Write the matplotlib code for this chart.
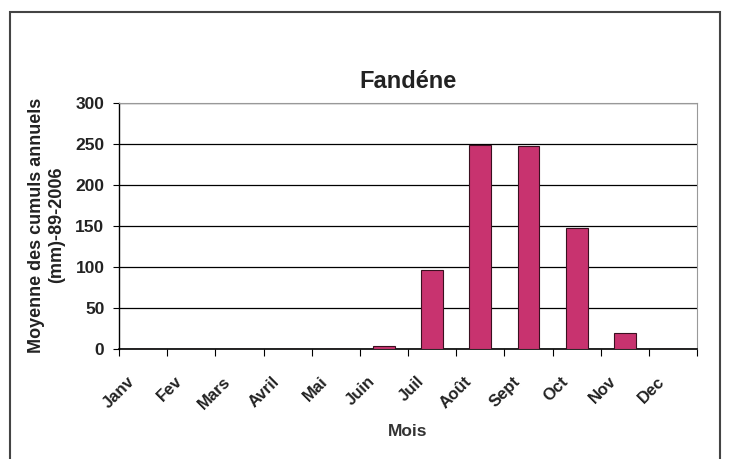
import matplotlib.pyplot as plt
from matplotlib.patches import Rectangle
from matplotlib.transforms import ScaledTranslation, blended_transform_factory
import numpy as np

plt.rcParams['font.family'] = ['Liberation Sans', 'DejaVu Sans']

# moyenne des cumuls mensuels (mm), 1989-2006
mois = ['Janv', 'Fev', 'Mars', 'Avril', 'Mai', 'Juin', 'Juil', 'Août', 'Sept', 'Oct', 'Nov', 'Dec']
pluie = [0, 0, 0, 0, 0, 4, 96, 249, 247, 148, 19, 0]

fig = plt.figure(figsize=(7.3, 4.59), dpi=100)
ax = fig.add_axes([0.163, 0.2397, 0.792, 0.536])

x = np.arange(len(mois))
ax.bar(x, pluie, width=0.45, color='#c8336f', edgecolor='#3a1020', linewidth=0.8, zorder=3)

ax.set_xlim(-0.5, len(mois) - 0.5)
ax.set_ylim(0, 300)
ax.set_yticks(range(0, 301, 50))
ax.yaxis.grid(True, color='black', linewidth=0.9, zorder=0)

# graduations entre les mois
ax.set_xticks(np.arange(-0.5, len(mois)))
ax.set_xticklabels([])
ax.tick_params(axis='x', length=5, direction='out', color='black')
ax.tick_params(axis='y', length=4, direction='out', pad=6.5, labelsize=12.5, labelcolor='#222222')
for lab in ax.get_yticklabels():
    lab.set_fontweight('bold')

# noms des mois en diagonale, sous chaque barre
trans = blended_transform_factory(ax.transData, ax.transAxes)
off = ScaledTranslation(-11 / 100, -30 / 100, fig.dpi_scale_trans)
for xi, m in zip(x, mois):
    ax.text(xi, 0, m, transform=trans + off, rotation=45, ha='right', va='center',
            rotation_mode='anchor', fontsize=12, fontweight='bold', color='#222222')

ax.spines['top'].set_color('#999999')
ax.spines['right'].set_color('#999999')
ax.spines['left'].set_linewidth(1.0)
ax.spines['bottom'].set_linewidth(1.2)

ax.set_title('Fandéne', fontsize=17, fontweight='bold', color='#222222', pad=11)
fig.text(408 / 730, 1 - 432 / 459, 'Mois', ha='center', va='center',
         fontsize=12.5, fontweight='bold', color='#333333')
fig.text(46.5 / 730, 1 - 225 / 459, 'Moyenne des cumuls annuels\n(mm)-89-2006',
         rotation=90, ha='center', va='center', multialignment='center',
         fontsize=13, fontweight='bold', color='#222222')

# cadre exterieur du graphique
fig.patches.append(Rectangle((0.0137, -0.02), 0.972, 0.994, transform=fig.transFigure,
                             fill=False, edgecolor='#444444', linewidth=1.5))

fig.savefig('out.png', dpi=100)
